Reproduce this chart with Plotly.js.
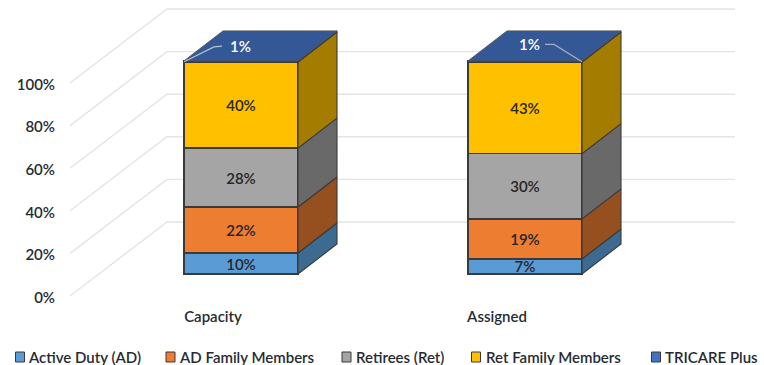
<!DOCTYPE html>
<html><head><meta charset="utf-8">
<script src="https://cdn.plot.ly/plotly-3.0.1.min.js"></script>
<style>html,body{margin:0;padding:0;background:#fff}</style></head>
<body><div id="chart" style="width:764px;height:365px"></div>
<script>
// ---- data ----
const categories = ['Capacity', 'Assigned'];
const seriesNames = ['Active Duty (AD)', 'AD Family Members', 'Retirees (Ret)', 'Ret Family Members', 'TRICARE Plus'];
const activeDuty = [9.9, 7.1];
const adFamily = [21.7, 18.9];
const retirees = [27.8, 30.8];
const retFamily = [40.6, 43.2];
const tricarePlus = [0.5, 0.5];
const labelsActiveDuty = ['10%', '7%'];
const labelsAdFamily = ['22%', '19%'];
const labelsRetirees = ['28%', '30%'];
const labelsRetFamily = ['40%', '43%'];
const labelsTricare = ['1%', '1%'];
const yTicks = [0, 20, 40, 60, 80, 100];
const yTickText = ['0%', '20%', '40%', '60%', '80%', '100%'];
const frontColors = ['#5B9BD5', '#ED7D31', '#A5A5A5', '#FFC000', '#4472C4'];
const sideColors = ['#3C6A91', '#96501F', '#696969', '#A37C00', '#2F4F8A'];
const topColor = '#345796';

// ---- layout constants (oblique 3D look) ----
const W = 764, H = 365, mL = 58, mB = 60;
const plotH = H - mB, plotW = W - mL;
const catPx = 284, cat0Px = 213;            // category spacing and first category position
const xOf = px => (px - cat0Px) / catPx;
const paperX = px => (px - mL) / plotW;
const paperY = py => (plotH - py) / plotH;
const wallScale = 2.13, barScale = 2.12;
const labelDrop = 1.5 / wallScale;          // tick labels sit slightly below the gridline ends
const wallRange = [-(plotH - 297.5) / wallScale, 297.5 / wallScale];
const barRange = [-(plotH - 274) / barScale, 274 / barScale];
const barShift = 28 / catPx, barWidth = 114 / catPx;
const depthX = 39 / catPx, depthY = 30 / barScale;
const wallBackY = 74 / wallScale;
const edge = '#3a3a3a', textColor = '#262626', axisText = '#262B33';
const font = 'Lato, "Open Sans", sans-serif';
const legendSwatchLeft = [15.5, 166, 342, 471.5, 651.5];
const legendTextLeft = [28.5, 179.5, 356, 486, 665];
const legendY = 357;

const series = [activeDuty, adFamily, retirees, retFamily, tricarePlus];
const seriesLabels = [labelsActiveDuty, labelsAdFamily, labelsRetirees, labelsRetFamily, labelsTricare];
const barX = categories.map((c, i) => i + barShift);

const traces = [];
// gridlines on floor edge + back wall (base subplot, beneath the bars)
yTicks.forEach(v => traces.push({
  type: 'scatter', mode: 'lines', xaxis: 'x', yaxis: 'y', showlegend: false, hoverinfo: 'skip',
  x: [xOf(70), xOf(167), xOf(735)],
  y: [v + labelDrop, v + labelDrop + wallBackY, v + labelDrop + wallBackY],
  line: { color: '#E4E4E4', width: 1.4 }
}));
// front faces
series.forEach((vals, s) => traces.push({
  type: 'bar', name: seriesNames[s], x: barX, y: vals, width: barWidth, xaxis: 'x', yaxis: 'y2',
  marker: { color: frontColors[s], line: { color: edge, width: 1.3 } },
  text: s < 4 ? seriesLabels[s] : undefined, textposition: s < 4 ? 'inside' : 'none',
  insidetextanchor: 'middle', textangle: 0, constraintext: 'none', hoverinfo: 'skip',
  textfont: { family: font, size: 15, color: textColor, weight: 600 }
}));
// side faces and top faces
categories.forEach((c, i) => {
  let base = 0;
  const xr = barX[i] + barWidth / 2, xl = barX[i] - barWidth / 2;
  series.forEach((vals, s) => {
    const t = base + vals[i];
    traces.push({
      type: 'scatter', mode: 'lines', fill: 'toself', fillcolor: sideColors[s], xaxis: 'x', yaxis: 'y2',
      showlegend: false, hoverinfo: 'skip', line: { color: edge, width: 1.1 },
      x: [xr, xr + depthX, xr + depthX, xr, xr], y: [base, base + depthY, t + depthY, t, base]
    });
    base = t;
  });
  traces.push({
    type: 'scatter', mode: 'lines', fill: 'toself', fillcolor: topColor, xaxis: 'x', yaxis: 'y2',
    showlegend: false, hoverinfo: 'skip', line: { color: '#555555', width: 1 },
    x: [xl, xl + depthX, xr + depthX, xr, xl], y: [base, base + depthY, base + depthY, base, base]
  });
});
// leader lines for the 1% labels
const total = i => series.reduce((a, v) => a + v[i], 0);
traces.push({
  type: 'scatter', mode: 'lines', xaxis: 'x', yaxis: 'y2', showlegend: false, hoverinfo: 'skip',
  line: { color: '#B8BFCC', width: 1.2 },
  x: [barX[0] - barWidth / 2, barX[0] - barWidth / 2 + 30 / catPx, barX[0] - barWidth / 2 + 38 / catPx],
  y: [total(0) - 0.4, total(0) + 6.6, total(0) + 7]
});
traces.push({
  type: 'scatter', mode: 'lines', xaxis: 'x', yaxis: 'y2', showlegend: false, hoverinfo: 'skip',
  line: { color: '#A9AEB8', width: 1.2 },
  x: [barX[1] + barWidth / 2, barX[1] + barWidth / 2 - 28 / catPx, barX[1] + barWidth / 2 - 37 / catPx],
  y: [total(1) - 0.4, total(1) + 7.8, total(1) + 7.8]
});

// legend built from the series names and colours
const legendShapes = seriesNames.map((n, s) => ({
  type: 'rect', xref: 'paper', yref: 'paper', layer: 'above',
  x0: paperX(legendSwatchLeft[s]), x1: paperX(legendSwatchLeft[s] + 9),
  y0: paperY(legendY + 5), y1: paperY(legendY - 5),
  fillcolor: frontColors[s], line: { color: '#3a3a3a', width: 1 }
}));
const legendText = seriesNames.map((n, s) => ({
  xref: 'paper', yref: 'paper', x: paperX(legendTextLeft[s]), y: paperY(legendY), xanchor: 'left', yanchor: 'middle',
  text: n, showarrow: false, xshift: -2.5, font: { family: font, size: 15, color: axisText, weight: 600 }
}));

const layout = {
  width: W, height: H, paper_bgcolor: '#fff', plot_bgcolor: 'rgba(0,0,0,0)',
  margin: { l: mL, r: 0, t: 0, b: mB, pad: 0 },
  barmode: 'stack', showlegend: false, hovermode: false,
  font: { family: font, size: 15, color: textColor },
  xaxis: {
    range: [xOf(mL), xOf(W)], showgrid: false, zeroline: false, showline: false, ticks: '',
    tickmode: 'array', tickvals: categories.map((c, i) => i), ticktext: categories, ticklabelstandoff: 1,
    tickfont: { family: font, size: 15, color: axisText, weight: 600 }
  },
  yaxis: {
    range: wallRange, showgrid: false, zeroline: false, showline: false, ticks: '', ticklabelstandoff: 2,
    tickmode: 'array', tickvals: yTicks, ticktext: yTickText,
    tickfont: { family: font, size: 15, color: axisText, weight: 600 }
  },
  yaxis2: { range: barRange, overlaying: 'y', visible: false, showgrid: false, zeroline: false },
  shapes: legendShapes,
  annotations: [
    { x: barX[0] - barWidth / 2 + 56 / catPx, y: total(0) + 7, xref: 'x', yref: 'y2', text: labelsTricare[0], showarrow: false, font: { family: font, size: 15, color: '#fff', weight: 600 } },
    { x: barX[1] + barWidth / 2 - 53 / catPx, y: total(1) + 8, xref: 'x', yref: 'y2', text: labelsTricare[1], showarrow: false, font: { family: font, size: 15, color: '#fff', weight: 600 } }
  ].concat(legendText)
};
Plotly.newPlot('chart', traces, layout, { displayModeBar: false, responsive: false });
</script></body></html>
